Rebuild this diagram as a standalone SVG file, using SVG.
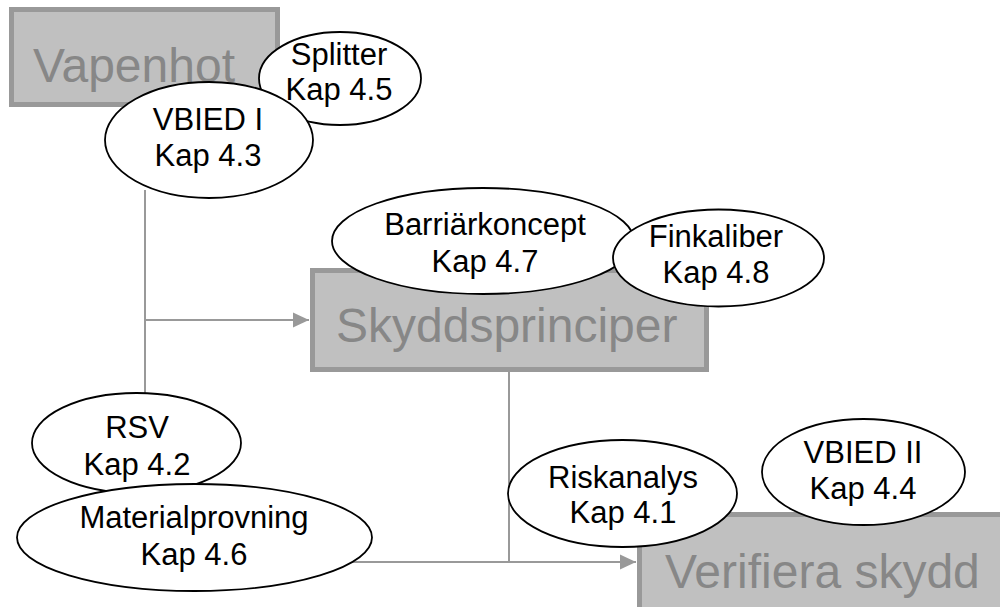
<svg xmlns="http://www.w3.org/2000/svg" width="1000" height="607" viewBox="0 0 1000 607">
<defs>
<style>
.box{fill:#c0c0c0;stroke:#999999;stroke-width:5}
.boxt{font-family:"Liberation Sans",Arial,sans-serif;font-size:48px;fill:#878787}
.ell{fill:#ffffff;stroke:#000000;stroke-width:1.8}
.et{font-family:"Liberation Sans",Arial,sans-serif;font-size:31px;fill:#000000;text-anchor:middle}
.con{fill:none;stroke:#999999;stroke-width:2}
</style>
<marker id="arr" markerUnits="userSpaceOnUse" markerWidth="17" markerHeight="16" refX="16" refY="8" orient="auto">
<path d="M0,0.5 L16,8 L0,15.5 Z" fill="#999999"/>
</marker>
</defs>
<rect width="1000" height="607" fill="#ffffff"/>
<g id="connectors">
<line class="con" x1="145" y1="190" x2="145" y2="400"/>
<line class="con" x1="145" y1="320" x2="309" y2="320" marker-end="url(#arr)"/>
<line class="con" x1="509" y1="372" x2="509" y2="562"/>
<line class="con" x1="340" y1="562" x2="636" y2="562" marker-end="url(#arr)"/>
</g>
<g id="vapenhot">
<rect class="box" x="11.5" y="9.5" width="266" height="95"/>
<text class="boxt" x="33" y="82">Vapenhot</text>
</g>
<g id="skyddsprinciper">
<rect class="box" x="312.5" y="270.5" width="394" height="99"/>
<text class="boxt" x="336" y="342">Skyddsprinciper</text>
</g>
<g id="verifiera">
<rect class="box" x="639.5" y="514.5" width="394" height="99"/>
<text class="boxt" x="665" y="588">Verifiera skydd</text>
</g>
<g id="splitter">
<ellipse class="ell" cx="340" cy="78.5" rx="81" ry="46.5"/>
<text class="et" x="339" y="65">Splitter</text>
<text class="et" x="339" y="100">Kap 4.5</text>
</g>
<g id="vbied1">
<ellipse class="ell" cx="209" cy="140" rx="104" ry="58"/>
<text class="et" x="208" y="130">VBIED I</text>
<text class="et" x="208" y="166">Kap 4.3</text>
</g>
<g id="barriarkoncept">
<ellipse class="ell" cx="483" cy="241" rx="151" ry="53"/>
<text class="et" x="485" y="235">Barriärkoncept</text>
<text class="et" x="485" y="272">Kap 4.7</text>
</g>
<g id="finkaliber">
<ellipse class="ell" cx="718.5" cy="258" rx="105.5" ry="48.5"/>
<text class="et" x="716" y="247">Finkaliber</text>
<text class="et" x="716" y="283">Kap 4.8</text>
</g>
<g id="rsv">
<ellipse class="ell" cx="136.5" cy="443" rx="104.5" ry="50"/>
<text class="et" x="137" y="438">RSV</text>
<text class="et" x="137" y="475">Kap 4.2</text>
</g>
<g id="materialprovning">
<ellipse class="ell" cx="194.5" cy="537.5" rx="177.5" ry="53.5"/>
<text class="et" x="194" y="528">Materialprovning</text>
<text class="et" x="194" y="565">Kap 4.6</text>
</g>
<g id="riskanalys">
<ellipse class="ell" cx="622.5" cy="493.5" rx="114.5" ry="53.5"/>
<text class="et" x="623" y="488">Riskanalys</text>
<text class="et" x="623" y="523">Kap 4.1</text>
</g>
<g id="vbied2">
<ellipse class="ell" cx="863.5" cy="472" rx="101.5" ry="53"/>
<text class="et" x="863" y="463">VBIED II</text>
<text class="et" x="863" y="499">Kap 4.4</text>
</g>
</svg>
